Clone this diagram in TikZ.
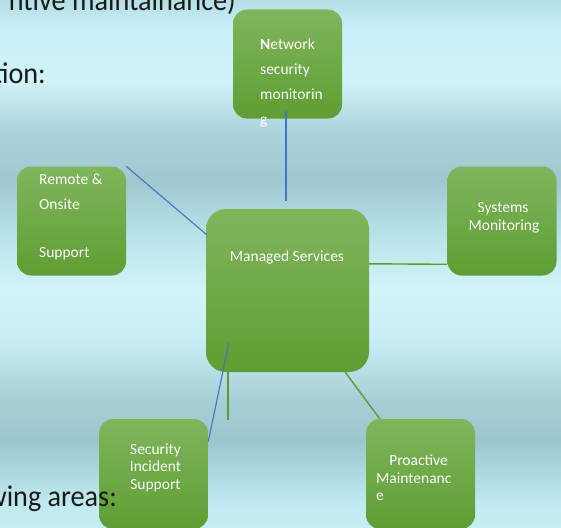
\documentclass[tikz,border=0pt]{standalone}
\usepackage{fontspec}
\usepackage{graphicx}
\setmainfont{Carlito}
\usetikzlibrary{calc}
\definecolor{b0}{RGB}{180,223,231}
\definecolor{b1}{RGB}{200,240,248}
\definecolor{b2}{RGB}{207,244,250}
\definecolor{b3}{RGB}{172,212,220}
\definecolor{b4}{RGB}{158,199,207}
\definecolor{b5}{RGB}{182,224,232}
\definecolor{b6}{RGB}{208,245,251}
\definecolor{b7}{RGB}{200,238,245}
\definecolor{b8}{RGB}{166,206,213}
\definecolor{b9}{RGB}{156,198,206}
\definecolor{b10}{RGB}{190,232,240}
\definecolor{b11}{RGB}{200,238,245}
\definecolor{gtop}{RGB}{127,182,92}
\definecolor{gbot}{RGB}{94,158,50}
\definecolor{lblue}{RGB}{68,114,196}
\definecolor{lgreen}{RGB}{92,155,52}
\newcommand{\bigtxt}[1]{\scalebox{0.94}[1]{#1}}
\begin{document}
\begin{tikzpicture}[x=1pt,y=-1pt,
  box/.style={rounded corners=14pt, minimum width=109pt, minimum height=109pt,
              top color=gtop, bottom color=gbot, inner sep=0pt, draw=none},
  bt/.style={text=white, font=\fontsize{15.5}{18}\selectfont, inner sep=0pt},
  big/.style={text=black!90, font=\fontsize{30}{34}\selectfont, inner sep=0pt},
  bline/.style={draw=lblue, line width=1.1pt},
  gline/.style={draw=lgreen, line width=1.4pt}]
\useasboundingbox (0,0) rectangle (561,527);
% background bands
\shade[top color=b0, bottom color=b1] (0,0) rectangle (561,30.5);
\shade[top color=b1, bottom color=b2] (0,30) rectangle (561,80.5);
\shade[top color=b2, bottom color=b3] (0,80) rectangle (561,130.5);
\shade[top color=b3, bottom color=b4] (0,130) rectangle (561,180.5);
\shade[top color=b4, bottom color=b5] (0,180) rectangle (561,230.5);
\shade[top color=b5, bottom color=b6] (0,230) rectangle (561,290.5);
\shade[top color=b6, bottom color=b7] (0,290) rectangle (561,340.5);
\shade[top color=b7, bottom color=b8] (0,340) rectangle (561,400.5);
\shade[top color=b8, bottom color=b9] (0,400) rectangle (561,440.5);
\shade[top color=b9, bottom color=b10] (0,440) rectangle (561,500.5);
\shade[top color=b10, bottom color=b11] (0,500) rectangle (561,527);
% boxes
\node[box] (net) at (287.5,64) {};
\node[box] (rem) at (71.5,221) {};
\node[box] (sys) at (502,221) {};
\node[box, rounded corners=20pt, minimum width=163pt, minimum height=163pt] (ms) at (287.5,290.5) {};
\node[box, minimum height=110pt] (sec) at (153.5,474) {};
\node[box, minimum height=110pt] (pro) at (420.5,474) {};
% connectors
\draw[bline] ($(net.south)+(-1.5,-8)$) -- ($(ms.north)+(-1.5,-8)$);
\draw[bline] (rem.north east) -- ($(ms.north west)+(1,26)$);
\draw[gline] ($(ms.north east)+(0,55)$) -- ($(sys.north west)+(0,98)$);
\draw[bline] ($(ms.south west)+(23,-29)$) -- ($(sec.north east)+(0,23)$);
\coordinate (gEnd) at ($(ms.south west)+(22,48)$);
\draw[gline] ($(ms.south west)+(22,0)$) -- (gEnd);
\draw[gline] ($(ms.south east)+(-24,0)$) -- ($(pro.north west)+(14,0)$);
% background text (drawn over the boxes)
\node[big, anchor=base east] (t1) at (236,11) {\bigtxt{ntive maintainance)}};
\node[big, anchor=base east] (t2) at (46,83) {\bigtxt{tion:}};
\node[big, anchor=base east] (t3) at (117,506) {\bigtxt{wing areas:}};
% box texts
\node[bt, anchor=base west] (net1) at (260,49) {\textbf{N}etwork};
\node[bt, anchor=base west] (net2) at (260,74) {security};
\node[bt, anchor=base west] (net3) at (260,99) {monitorin};
\node[bt, anchor=base west] (net4) at (260,124) {g};
\node[bt, anchor=base west] (rem1) at (39,184) {Remote \&};
\node[bt, anchor=base west] (rem2) at (39,209) {Onsite};
\node[bt, anchor=base west] (rem3) at (39,257) {Support};
\node[bt, anchor=base] (sys1) at (503,212) {Systems};
\node[bt, anchor=base] (sys2) at (504,230) {Monitoring};
\node[bt, anchor=base] (ms1) at (287,261) {Managed Services};
\node[bt, anchor=base] (sec1) at (155.5,454) {Security};
\node[bt, anchor=base] (sec2) at (155.5,471) {Incident};
\node[bt, anchor=base] (sec3) at (155.5,489) {Support};
\node[bt, anchor=base] (pro1) at (418.5,465) {Proactive};
\node[bt, anchor=base west] (pro2) at (376,483) {Maintenanc};
\node[bt, anchor=base west] (pro3) at (376,500) {e};
\end{tikzpicture}
\end{document}
